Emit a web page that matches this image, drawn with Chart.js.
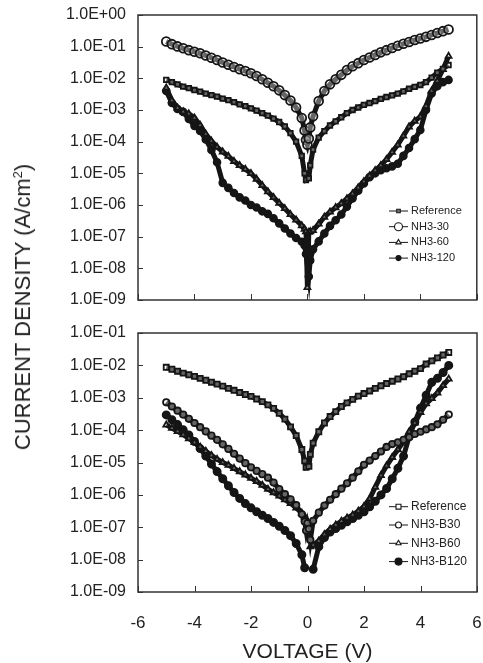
<!DOCTYPE html>
<html>
<head>
<meta charset="utf-8">
<script src="https://cdn.jsdelivr.net/npm/chart.js@4.4.1/dist/chart.umd.min.js"></script>
<style>
  html, body { margin: 0; padding: 0; background: #fff; }
  #wrap { position: relative; width: 483px; height: 663px; overflow: hidden; }
  #c1 { position: absolute; left: 0; top: 0; }
  #c2 { position: absolute; left: 0; top: 316px; }
  #ytitle {
    position: absolute; left: 23px; top: 307px;
    transform: translate(-50%, -50%) rotate(-90deg);
    white-space: nowrap; font-family: 'Liberation Sans', Arial, sans-serif;
    font-size: 22px; color: #222; line-height: 1;
  }
  #ytitle span { font-size: 13px; vertical-align: super; line-height: 0; }
</style>
</head>
<body>
<div id="wrap">
  <canvas id="c1" width="483" height="312"></canvas>
  <canvas id="c2" width="483" height="347"></canvas>
  <div id="ytitle">CURRENT DENSITY (A/cm<span>2</span>)</div>
</div>
<script>
// ---------- data ----------
const voltage = [-5.0,-4.8,-4.6,-4.4,-4.2,-4.0,-3.8,-3.6,-3.4,-3.2,-3.0,-2.8,-2.6,-2.4,-2.2,-2.0,-1.8,-1.6,-1.4,-1.2,-1.0,-0.8,-0.6,-0.4,-0.2,
  -0.1,-0.05,0,0.05,0.1,
  0.2,0.4,0.6,0.8,1.0,1.2,1.4,1.6,1.8,2.0,2.2,2.4,2.6,2.8,3.0,3.2,3.4,3.6,3.8,4.0,4.2,4.4,4.6,4.8,5.0];

// top panel
const topReference = [8.91e-3,7.59e-3,6.46e-3,5.50e-3,4.90e-3,4.27e-3,3.80e-3,3.31e-3,2.95e-3,2.63e-3,2.29e-3,2.04e-3,1.78e-3,1.51e-3,1.32e-3,1.12e-3,9.55e-4,7.94e-4,6.61e-4,5.37e-4,4.17e-4,3.02e-4,1.86e-4,1.00e-4,3.55e-5,
  1.00e-5,6.17e-6,null,6.92e-6,1.78e-5,
  5.62e-5,1.35e-4,2.14e-4,3.24e-4,4.37e-4,5.89e-4,7.94e-4,1.00e-3,1.20e-3,1.45e-3,1.66e-3,1.91e-3,2.24e-3,2.57e-3,2.88e-3,3.31e-3,3.89e-3,4.68e-3,5.37e-3,6.17e-3,7.59e-3,1.05e-2,1.51e-2,2.00e-2,2.63e-2];
const topNH3_30 = [1.45e-1,1.20e-1,1.02e-1,8.91e-2,7.76e-2,6.92e-2,6.17e-2,5.25e-2,4.47e-2,3.80e-2,3.16e-2,2.69e-2,2.29e-2,1.95e-2,1.70e-2,1.45e-2,1.18e-2,9.33e-3,7.24e-3,5.62e-3,4.17e-3,2.95e-3,2.00e-3,1.20e-3,5.62e-4,
  2.24e-4,1.12e-4,7.94e-5,1.26e-4,2.82e-4,
  6.31e-4,1.91e-3,3.98e-3,6.46e-3,9.33e-3,1.29e-2,1.82e-2,2.40e-2,3.02e-2,3.80e-2,4.57e-2,5.50e-2,6.61e-2,7.76e-2,9.12e-2,1.07e-1,1.23e-1,1.41e-1,1.62e-1,1.82e-1,2.04e-1,2.34e-1,2.69e-1,3.09e-1,3.47e-1];
const topNH3_60 = [5.01e-3,2.00e-3,1.17e-3,8.91e-4,7.59e-4,5.62e-4,3.31e-4,1.74e-4,1.05e-4,6.76e-5,4.79e-5,3.47e-5,2.40e-5,1.78e-5,1.35e-5,1.00e-5,6.61e-6,4.17e-6,2.63e-6,1.74e-6,1.15e-6,7.76e-7,5.01e-7,3.39e-7,2.24e-7,
  1.74e-7,1.45e-7,2.51e-9,1.38e-7,1.45e-7,
  1.58e-7,2.51e-7,4.17e-7,6.03e-7,8.32e-7,1.12e-6,1.58e-6,2.29e-6,3.55e-6,5.50e-6,8.32e-6,1.23e-5,1.78e-5,2.75e-5,4.68e-5,7.94e-5,1.51e-4,2.95e-4,4.47e-4,6.17e-4,1.32e-3,3.98e-3,8.32e-3,1.91e-2,5.01e-2];
const topNH3_120 = [3.98e-3,1.66e-3,1.07e-3,8.71e-4,5.25e-4,3.16e-4,2.19e-4,1.18e-4,5.50e-5,2.24e-5,5.01e-6,3.47e-6,2.40e-6,1.74e-6,1.38e-6,1.00e-6,8.32e-7,6.31e-7,5.25e-7,3.80e-7,2.63e-7,1.82e-7,1.26e-7,9.12e-8,6.92e-8,
  5.25e-8,2.82e-8,null,5.50e-9,1.78e-8,
  3.98e-8,7.08e-8,1.26e-7,2.19e-7,3.31e-7,5.01e-7,8.91e-7,1.62e-6,2.82e-6,4.79e-6,7.59e-6,1.00e-5,1.26e-5,1.45e-5,1.66e-5,2.00e-5,3.55e-5,6.31e-5,1.20e-4,2.34e-4,1.00e-3,3.31e-3,5.62e-3,7.59e-3,8.91e-3];

// bottom panel
const botReference = [8.71e-3,7.59e-3,6.61e-3,5.75e-3,5.13e-3,4.57e-3,3.98e-3,3.47e-3,3.02e-3,2.63e-3,2.29e-3,1.95e-3,1.70e-3,1.45e-3,1.26e-3,1.10e-3,9.12e-4,7.59e-4,6.03e-4,4.68e-4,3.31e-4,2.19e-4,1.26e-4,6.76e-5,2.51e-5,
  1.12e-5,7.08e-6,null,7.59e-6,1.78e-5,
  3.98e-5,8.91e-5,1.66e-4,2.63e-4,3.72e-4,5.37e-4,6.92e-4,8.91e-4,1.12e-3,1.35e-3,1.62e-3,1.95e-3,2.34e-3,2.75e-3,3.24e-3,3.80e-3,4.47e-3,5.50e-3,6.61e-3,7.94e-3,1.10e-2,1.38e-2,1.70e-2,2.09e-2,2.51e-2];
const botB30 = [7.24e-4,5.37e-4,3.98e-4,3.02e-4,2.24e-4,1.66e-4,1.23e-4,9.12e-5,6.76e-5,5.01e-5,3.63e-5,2.63e-5,1.86e-5,1.32e-5,9.55e-6,7.08e-6,5.50e-6,4.37e-6,3.39e-6,2.40e-6,1.51e-6,1.05e-6,7.24e-7,4.79e-7,2.51e-7,
  1.51e-7,7.94e-8,1.32e-7,8.91e-8,4.07e-8,
  1.58e-7,2.82e-7,4.68e-7,7.08e-7,1.05e-6,1.55e-6,2.29e-6,3.39e-6,5.37e-6,8.51e-6,1.15e-5,1.58e-5,2.19e-5,3.02e-5,3.72e-5,4.17e-5,5.01e-5,6.03e-5,7.59e-5,8.91e-5,1.05e-4,1.23e-4,1.51e-4,2.09e-4,3.02e-4];
const botB60 = [1.45e-4,1.15e-4,9.12e-5,7.24e-5,5.50e-5,4.17e-5,3.02e-5,2.24e-5,1.66e-5,1.26e-5,1.00e-5,8.32e-6,6.61e-6,5.25e-6,4.17e-6,3.31e-6,2.63e-6,2.00e-6,1.51e-6,1.18e-6,9.33e-7,7.08e-7,5.50e-7,3.98e-7,2.75e-7,
  2.09e-7,1.78e-7,null,null,2.51e-8,
  2.82e-8,3.80e-8,6.03e-8,8.71e-8,1.18e-7,1.55e-7,1.95e-7,2.40e-7,3.16e-7,4.37e-7,7.59e-7,1.74e-6,3.98e-6,7.94e-6,1.45e-5,2.51e-5,4.37e-5,8.91e-5,1.66e-4,3.55e-4,6.61e-4,9.55e-4,1.41e-3,2.40e-3,3.80e-3];
const botB120 = [2.95e-4,2.09e-4,1.48e-4,1.02e-4,7.08e-5,4.47e-5,2.69e-5,1.58e-5,8.91e-6,5.25e-6,3.16e-6,1.91e-6,1.18e-6,7.76e-7,5.37e-7,3.98e-7,3.02e-7,2.34e-7,1.86e-7,1.41e-7,1.07e-7,7.94e-8,5.50e-8,3.16e-8,1.41e-8,
  5.62e-9,null,null,null,null,
  5.01e-9,2.51e-8,4.79e-8,7.08e-8,9.12e-8,1.15e-7,1.48e-7,1.86e-7,2.34e-7,3.02e-7,4.27e-7,6.31e-7,1.00e-6,1.58e-6,3.16e-6,6.61e-6,1.58e-5,6.31e-5,1.78e-4,4.79e-4,1.20e-3,3.02e-3,3.98e-3,6.03e-3,1.00e-2];

// ticks
const xTicks = [-6, -4, -2, 0, 2, 4, 6];
const topYTicks = [1e0, 1e-1, 1e-2, 1e-3, 1e-4, 1e-5, 1e-6, 1e-7, 1e-8, 1e-9];
const topYLabels = ['1.0E+00','1.0E-01','1.0E-02','1.0E-03','1.0E-04','1.0E-05','1.0E-06','1.0E-07','1.0E-08','1.0E-09'];
const botYTicks = [1e-1, 1e-2, 1e-3, 1e-4, 1e-5, 1e-6, 1e-7, 1e-8, 1e-9];
const botYLabels = ['1.0E-01','1.0E-02','1.0E-03','1.0E-04','1.0E-05','1.0E-06','1.0E-07','1.0E-08','1.0E-09'];

// ---------- rendering ----------
const DARK = '#151515';
const HOLE = 'rgba(255,255,255,0.35)';
const FONT = "'Liberation Sans', Arial, sans-serif";

function ds(label, values, style, radius, fill, spanGaps) {
  return {
    label,
    data: voltage.map((v, i) => ({ x: v, y: values[i] })),
    borderColor: DARK, borderWidth: 5,
    pointStyle: style, pointRadius: radius, pointHoverRadius: radius,
    pointBorderWidth: 1.8, pointBorderColor: DARK, pointBackgroundColor: fill,
    spanGaps, tension: 0
  };
}

const framePlugin = {
  id: 'frame',
  afterDraw(chart, args, opts) {
    const { ctx, chartArea: a } = chart;
    const xs = chart.scales.x, ys = chart.scales.y;
    ctx.save();
    ctx.strokeStyle = '#333';
    ctx.lineWidth = 1.5;
    ctx.strokeRect(a.left, a.top, a.right - a.left, a.bottom - a.top);
    ctx.lineWidth = 1;
    ctx.beginPath();
    opts.yTicks.forEach(v => {
      const py = Math.round(ys.getPixelForValue(v)) + 0.5;
      ctx.moveTo(a.left, py); ctx.lineTo(a.left + 5, py);
    });
    xTicks.forEach(v => {
      const px = Math.round(xs.getPixelForValue(v)) + 0.5;
      ctx.moveTo(px, a.bottom); ctx.lineTo(px, a.bottom - 6);
    });
    ctx.stroke();

    // legend inside the plot
    const lg = opts.legend;
    chart.data.datasets.forEach((d, i) => {
      const yy = lg.y + i * lg.dy;
      ctx.strokeStyle = DARK; ctx.lineWidth = 1;
      ctx.beginPath(); ctx.moveTo(lg.x, yy); ctx.lineTo(lg.x + 19, yy); ctx.stroke();
      ctx.fillStyle = lg.fill[i];
      ctx.lineWidth = 1.1;
      Chart.helpers.drawPoint(ctx, { pointStyle: d.pointStyle, radius: lg.r[i], borderWidth: 1.1, rotation: 0 }, lg.x + 9.5, yy);
      ctx.fillStyle = '#222';
      ctx.font = lg.font;
      ctx.textBaseline = 'middle'; ctx.textAlign = 'left';
      ctx.fillText(d.label, lg.x + 22, yy);
    });
    ctx.restore();
  }
};

function makeChart(id, datasets, yMax, yTicks, yLabels, isBottom, legendOpts) {
  const canvasH = document.getElementById(id).height;
  return new Chart(document.getElementById(id), {
    type: 'line',
    data: { datasets },
    plugins: [framePlugin],
    options: {
      responsive: false, animation: false, devicePixelRatio: 1,
      events: [],
      layout: { padding: { left: 0, right: 6, top: isBottom ? 17 : 15, bottom: 0 } },
      plugins: {
        legend: { display: false }, tooltip: { enabled: false },
        frame: { yTicks, legend: legendOpts }
      },
      scales: {
        x: {
          type: 'linear', min: -6, max: 6,
          grid: { display: false, drawTicks: true, tickLength: 21 }, border: { display: false },
          afterBuildTicks: s => { s.ticks = xTicks.map(v => ({ value: v })); },
          afterFit: s => { s.height = isBottom ? 71 : canvasH - 300; },
          ticks: {
            display: isBottom, padding: 0, color: '#222', maxRotation: 0, minRotation: 0, autoSkip: false,
            font: { family: FONT, size: 17 }
          },
          title: {
            display: isBottom, text: 'VOLTAGE (V)', color: '#222',
            font: { family: FONT, size: 21, lineHeight: 1 }, padding: { top: 0, bottom: 0 }
          }
        },
        y: {
          type: 'logarithmic', min: 1e-9, max: yMax,
          grid: { display: false, drawTicks: true, tickLength: 12 }, border: { display: false },
          afterBuildTicks: s => { s.ticks = yTicks.map(v => ({ value: v })); },
          afterFit: s => { s.width = 138; },
          ticks: {
            padding: 0, color: '#222', autoSkip: false,
            font: { family: FONT, size: 16 },
            callback: (v, i) => yLabels[i]
          }
        }
      }
    }
  });
}

makeChart('c1', [
  ds('Reference', topReference, 'rect', 3.2, HOLE, true),
  ds('NH3-30', topNH3_30, 'circle', 4.4, HOLE, true),
  ds('NH3-60', topNH3_60, 'triangle', 3.4, HOLE, true),
  ds('NH3-120', topNH3_120, 'circle', 3.4, DARK, true)
], 1, topYTicks, topYLabels, false,
  { x: 389, y: 211, dy: 15.7, font: "11px " + FONT, r: [2.5, 4, 3, 2.5], fill: ['#777', '#fff', '#fff', DARK] });

makeChart('c2', [
  ds('Reference', botReference, 'rect', 3.6, HOLE, true),
  ds('NH3-B30', botB30, 'circle', 3.2, HOLE, true),
  ds('NH3-B60', botB60, 'triangle', 3.4, HOLE, false),
  ds('NH3-B120', botB120, 'circle', 3.6, DARK, false)
], 1e-1, botYTicks, botYLabels, true,
  { x: 389, y: 190.7, dy: 18.3, font: "12px " + FONT, r: [3.5, 3, 3, 3.5], fill: ['#fff', '#fff', '#fff', DARK] });
</script>
</body>
</html>
